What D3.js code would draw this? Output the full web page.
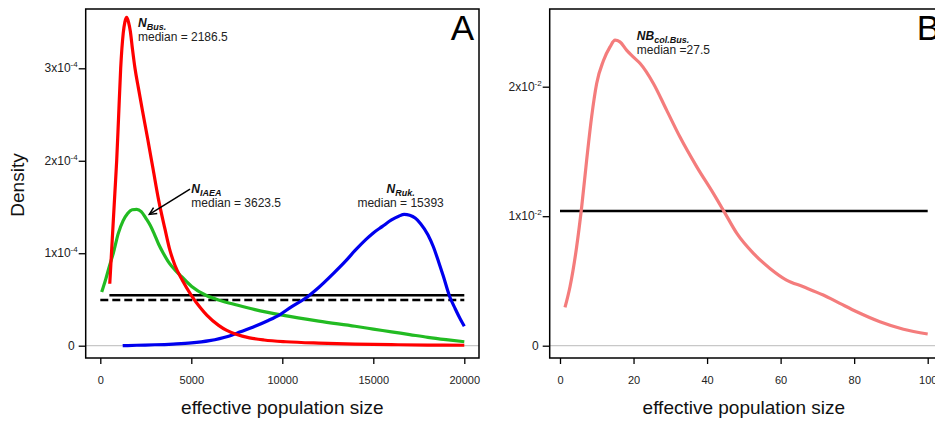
<!DOCTYPE html>
<html>
<head>
<meta charset="utf-8">
<script src="https://cdn.jsdelivr.net/npm/d3@7"></script>
<style>
  html, body { margin: 0; padding: 0; background: #fff; }
  svg { display: block; font-family: "Liberation Sans", Arial, Helvetica, sans-serif; }
</style>
</head>
<body>
<svg id="chart" width="935" height="423"></svg>
<script>
// ---------- Panel A data (density, effective population size) ----------
const nBusX = [520,600,700,800,900,1000,1120,1260,1350,1450,1550,1650,1760,1906,2100,2300,2600,2900,3200,3555,3800,4100,4500,5000,5500,5850,6500,6950,7500,8200,9000,10200,12000,14000,16000,18000,20000];
const nBusY = [0.67e-4,0.95e-4,1.3e-4,1.65e-4,2.0e-4,2.45e-4,3.0e-4,3.38e-4,3.5e-4,3.55e-4,3.5e-4,3.4e-4,3.22e-4,3.0e-4,2.78e-4,2.56e-4,2.24e-4,1.91e-4,1.58e-4,1.26e-4,1.05e-4,0.87e-4,0.71e-4,0.545e-4,0.41e-4,0.33e-4,0.22e-4,0.165e-4,0.12e-4,0.085e-4,0.062e-4,0.043e-4,0.028e-4,0.018e-4,0.011e-4,0.007e-4,0.005e-4];

const nIaeaX = [77,300,500,714,989,1250,1500,1750,2000,2250,2500,2750,2951,3200,3462,3800,4100,4473,5022,5800,6500,7500,8500,10000,12000,14000,15000,16000,17000,18000,19000,20000];
const nIaeaY = [0.58e-4,0.72e-4,0.86e-4,1.0e-4,1.215e-4,1.35e-4,1.43e-4,1.47e-4,1.475e-4,1.45e-4,1.38e-4,1.3e-4,1.215e-4,1.1e-4,1.0e-4,0.89e-4,0.82e-4,0.746e-4,0.64e-4,0.545e-4,0.494e-4,0.44e-4,0.39e-4,0.33e-4,0.265e-4,0.21e-4,0.18e-4,0.15e-4,0.12e-4,0.09e-4,0.065e-4,0.043e-4];

const nRukX = [1230,2000,3000,4000,5000,6000,7000,7700,8500,9200,9900,10500,11250,12000,12800,13500,14000,14600,15000,15500,16000,16400,16700,17000,17300,17600,18000,18300,18600,18850,19200,19500,19750,20000];
const nRukY = [0,0.005e-4,0.01e-4,0.018e-4,0.03e-4,0.055e-4,0.1e-4,0.15e-4,0.21e-4,0.27e-4,0.34e-4,0.42e-4,0.51e-4,0.63e-4,0.78e-4,0.92e-4,1.03e-4,1.15e-4,1.22e-4,1.29e-4,1.36e-4,1.4e-4,1.42e-4,1.41e-4,1.38e-4,1.32e-4,1.2e-4,1.07e-4,0.9e-4,0.75e-4,0.53e-4,0.4e-4,0.3e-4,0.21e-4];

// priors (horizontal reference lines) in panel A
const priorSolidA  = {x: [500, 20000], y: 0.545e-4};
const priorDashedA = {x: [0, 20000],   y: 0.495e-4};

const ticksAX = [0, 5000, 10000, 15000, 20000];
const ticksAY = [0, 1e-4, 2e-4, 3e-4];
const ticksAYLabels = [["0",""],["1x10","-4"],["2x10","-4"],["3x10","-4"]];

// annotations panel A (data coordinates)
const annBus  = {x: 2070,  y1: 3.445e-4, y2: 3.294e-4, sub: "Bus.", med: "median = 2186.5"};
const annIaea = {x: 5000,  y1: 1.648e-4, y2: 1.503e-4, sub: "IAEA", med: "median = 3623.5"};
const annRuk  = {x: 16500, y1: 1.648e-4, y2: 1.503e-4, sub: "Ruk.", med: "median = 15393"};
const arrowIaea = {x0: 4929, y0: 1.694e-4, x1: 2692, y1: 1.42e-4};

// ---------- Panel B data ----------
const nbX = [1.36,2.72,4.53,5.9,7.25,8.6,9.97,11.8,13.6,14.96,16.3,18.1,19.9,21.8,25.4,29.0,32.6,37.2,41.7,44.9,48.1,52.6,57.1,61.6,66.2,71.6,76.1,80.7,87.0,93.4,100];
const nbY = [0.00296,0.00455,0.00764,0.01073,0.01433,0.01767,0.02025,0.022,0.02307,0.02359,0.02346,0.02282,0.0223,0.02179,0.02025,0.01819,0.01613,0.01381,0.01176,0.01022,0.00867,0.00713,0.00597,0.00507,0.00455,0.00391,0.00327,0.00262,0.00185,0.00127,0.0009];
const priorB = {x: [0, 100], y: 0.0104};
const ticksBX = [0, 20, 40, 60, 80, 100];
const ticksBY = [0, 0.01, 0.02];
const ticksBYLabels = [["0",""],["1x10","-2"],["2x10","-2"]];
const annNB = {x: 20.9, y1: 0.02364, y2: 0.02251, main: "NB", sub: "col.Bus.", med: "median =27.5"};

// ---------- Drawing ----------
const svg = d3.select("#chart");
const FONT_TICK = 11, FONT_YTICK = 12, FONT_ANN = 12;

function panel(opts) {
  const g = svg.append("g");
  const {x, y, box} = opts;
  // zero reference line
  g.append("line").attr("x1", box.l).attr("x2", box.r)
    .attr("y1", y(0)).attr("y2", y(0))
    .attr("stroke", "#c8c8c8").attr("stroke-width", 1.2);
  // box
  g.append("rect").attr("x", box.l).attr("y", box.t)
    .attr("width", box.r - box.l).attr("height", box.b - box.t)
    .attr("fill", "none").attr("stroke", "#000").attr("stroke-width", 1.5);
  // x axis
  const ax = d3.axisBottom(x).tickValues(opts.ticksX).tickSize(6).tickSizeOuter(0).tickFormat(d3.format("d"));
  const gx = g.append("g").attr("transform", `translate(0,${box.b})`).call(ax);
  gx.select(".domain").remove();
  gx.selectAll(".tick line").attr("stroke", "#000").attr("stroke-width", 1.3);
  gx.selectAll(".tick text").attr("font-size", FONT_TICK).attr("fill", "#222")
    .attr("font-family", "Liberation Sans, Arial, sans-serif")
    .attr("y", 26).attr("dy", "0");
  // y axis
  const ay = d3.axisLeft(y).tickValues(opts.ticksY).tickSize(7).tickSizeOuter(0).tickFormat("");
  const gy = g.append("g").attr("transform", `translate(${box.l},0)`).call(ay);
  gy.select(".domain").remove();
  gy.selectAll(".tick line").attr("stroke", "#000").attr("stroke-width", 1.3);
  opts.ticksY.forEach((v, i) => {
    const [base, sup] = opts.ticksYLabels[i];
    const t = g.append("text").attr("text-anchor", "end")
      .attr("x", box.l - (sup ? 8 : 11)).attr("y", y(v) + 4)
      .attr("font-size", FONT_YTICK).attr("fill", "#222");
    t.append("tspan").text(base);
    if (sup) t.append("tspan").attr("font-size", 8).attr("dy", -5).text(sup);
  });
  // x label
  g.append("text").attr("x", (x.range()[0] + x.range()[1]) / 2).attr("y", 414)
    .attr("text-anchor", "middle").attr("font-size", 19).attr("fill", "#111")
    .text("effective population size");
  // panel letter
  g.append("text").attr("x", box.r - 5).attr("y", 40).attr("text-anchor", "end")
    .attr("font-size", 35).attr("fill", "#000").text(opts.letter);
  return g;
}

function curve(g, x, y, xs, ys, color, width, dash) {
  const pts = xs.map((v, i) => [v, ys[i]]);
  g.append("path").datum(pts)
    .attr("d", d3.line().x(d => x(d[0])).y(d => y(d[1])).curve(d3.curveMonotoneX))
    .attr("fill", "none").attr("stroke", color).attr("stroke-width", width)
    .attr("stroke-linejoin", "round").attr("stroke-linecap", "butt")
    .attr("stroke-dasharray", dash || null);
}

function hline(g, x, y, spec, dash) {
  g.append("line").attr("x1", x(spec.x[0])).attr("x2", x(spec.x[1]))
    .attr("y1", y(spec.y)).attr("y2", y(spec.y))
    .attr("stroke", "#000").attr("stroke-width", 2.4)
    .attr("stroke-dasharray", dash || null);
}

function label(g, x, y, a, anchor, main) {
  const t = g.append("text").attr("x", x(a.x)).attr("y", y(a.y1))
    .attr("text-anchor", anchor).attr("font-weight", "bold").attr("font-style", "italic")
    .attr("font-size", FONT_ANN).attr("fill", "#111");
  t.append("tspan").text(main);
  t.append("tspan").attr("font-size", 9).attr("dy", 3).text(a.sub);
  g.append("text").attr("x", x(a.x)).attr("y", y(a.y2))
    .attr("text-anchor", anchor).attr("font-size", FONT_ANN).attr("fill", "#222").text(a.med);
}

// ----- Panel A -----
const xA = d3.scaleLinear().domain([0, 20000]).range([100.3, 464.3]);
const yA = d3.scaleLinear().domain([0, 3e-4]).range([345.7, 68.3]);
const gA = panel({x: xA, y: yA, box: {l: 85.7, r: 479, t: 9, b: 358},
  ticksX: ticksAX, ticksY: ticksAY, ticksYLabels: ticksAYLabels, letter: "A"});

hline(gA, xA, yA, priorSolidA);
hline(gA, xA, yA, priorDashedA, "8,4");
curve(gA, xA, yA, nIaeaX, nIaeaY, "#22bb22", 3.2);
curve(gA, xA, yA, nRukX, nRukY, "#0000ee", 3.2);
curve(gA, xA, yA, nBusX, nBusY, "#ff0000", 3.2);

label(gA, xA, yA, annBus, "start", "N");
label(gA, xA, yA, annIaea, "start", "N");
label(gA, xA, yA, annRuk, "middle", "N");

// arrow
{
  const x0 = xA(arrowIaea.x0), y0 = yA(arrowIaea.y0), x1 = xA(arrowIaea.x1), y1 = yA(arrowIaea.y1);
  const ang = Math.atan2(y1 - y0, x1 - x0), L = 8, spread = Math.PI / 7;
  gA.append("line").attr("x1", x0).attr("y1", y0).attr("x2", x1).attr("y2", y1)
    .attr("stroke", "#000").attr("stroke-width", 1.5);
  gA.append("path")
    .attr("d", `M${x1 - L * Math.cos(ang - spread)},${y1 - L * Math.sin(ang - spread)}L${x1},${y1}L${x1 - L * Math.cos(ang + spread)},${y1 - L * Math.sin(ang + spread)}`)
    .attr("fill", "none").attr("stroke", "#000").attr("stroke-width", 1.5);
}

// "Density" y label
svg.append("text").attr("transform", "translate(24,185) rotate(-90)")
  .attr("text-anchor", "middle").attr("font-size", 19).attr("fill", "#111").text("Density");

// ----- Panel B -----
const xB = d3.scaleLinear().domain([0, 100]).range([560, 927.7]);
const yB = d3.scaleLinear().domain([0, 0.02]).range([345.7, 86.7]);
const gB = panel({x: xB, y: yB, box: {l: 549.7, r: 945, t: 9, b: 358},
  ticksX: ticksBX, ticksY: ticksBY, ticksYLabels: ticksBYLabels, letter: "B"});
hline(gB, xB, yB, priorB);
curve(gB, xB, yB, nbX, nbY, "#f47c7c", 3.2);
label(gB, xB, yB, annNB, "start", annNB.main);
</script>
</body>
</html>
